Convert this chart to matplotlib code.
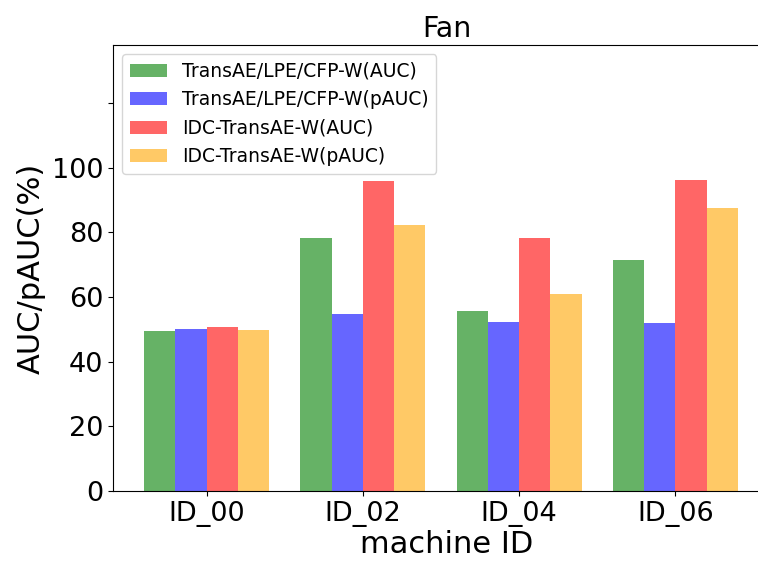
import numpy as np
import matplotlib
matplotlib.use('Agg')
import matplotlib.pyplot as plt

machines = ['ID_00', 'ID_02', 'ID_04', 'ID_06']
base_auc = [49.5, 78.4, 55.6, 71.5]
base_pauc = [50.0, 54.9, 52.2, 52.1]
idc_auc = [50.9, 96.0, 78.4, 96.3]
idc_pauc = [49.7, 82.4, 61.1, 87.6]

labels = ['TransAE/LPE/CFP-W(AUC)', 'TransAE/LPE/CFP-W(pAUC)',
          'IDC-TransAE-W(AUC)', 'IDC-TransAE-W(pAUC)']
colors = ['green', 'blue', 'red', 'orange']

fig = plt.figure(figsize=(7.58, 5.62), dpi=100)
# right edge of the axes falls outside the figure, as in the cropped original
ax = fig.add_axes([0.149, 0.1263, 0.88, 0.7936])

x = np.arange(len(machines))
w = 0.2
series = [base_auc, base_pauc, idc_auc, idc_pauc]
for i, (vals, lab, c) in enumerate(zip(series, labels, colors)):
    ax.bar(x + (i - 1.5) * w, vals, w, label=lab, color=c, alpha=0.6)

ax.set_xlim(-0.6, 3.67)
ax.set_ylim(0, 138)
ax.set_yticks([0, 20, 40, 60, 80, 100, 120])
ax.set_yticklabels(['0', '20', '40', '60', '80', '100', ''])
ax.set_xticks(x)
ax.set_xticklabels(machines)
ax.tick_params(labelsize=19.5)
ax.set_xlabel('machine ID', fontsize=22, labelpad=2)
ax.set_ylabel('AUC/pAUC(%)', fontsize=22)
ax.set_title('Fan', fontsize=20.5)
ax.legend(loc='upper left', fontsize=13.5)

fig.savefig('out.png', dpi=100)
